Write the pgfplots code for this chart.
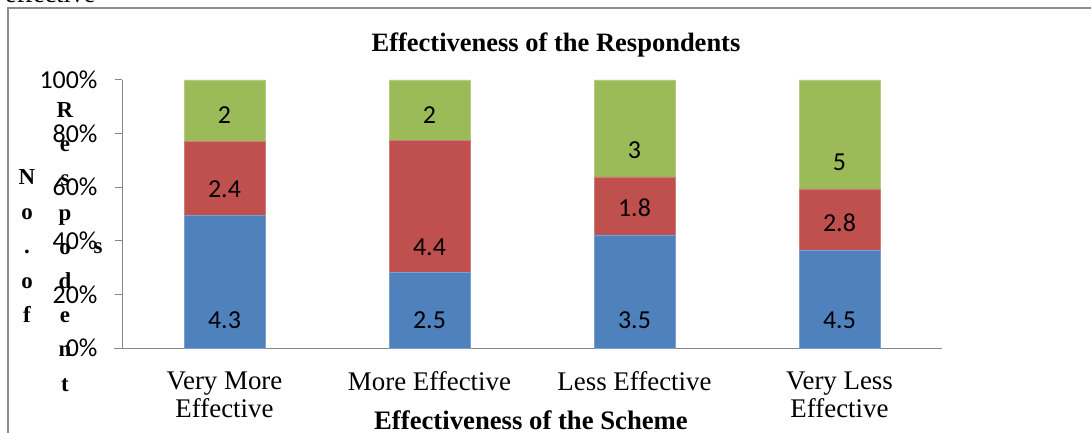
\documentclass[border=0pt]{standalone}
\usepackage{pgfplots}
\pgfplotsset{compat=1.18}
\usepackage{pgfplotstable}
\usepackage{fontspec}
\setmainfont{Liberation Serif}
\newfontfamily\carlito{Carlito}
\definecolor{cblue}{HTML}{4F81BD}
\definecolor{cred}{HTML}{C0504D}
\definecolor{cgreen}{HTML}{9BBB59}
\definecolor{frame}{HTML}{8C8C8C}
\definecolor{axisgray}{HTML}{868686}

\pgfplotstableread{
x a b c la lb lc
0 4.3 2.4 2 10.2 59.3 86.9
1 2.5 4.4 2 10.2 37.7 86.9
2 3.5 1.8 3 10.2 52.2 73.9
3 4.5 2.8 5 10.2 46.6 69.4
}\resp

\begin{document}
\begin{tikzpicture}[x=1bp,y=1bp]
\path[use as bounding box] (0,0) rectangle (1091,432);
% outer frame
\draw[frame, line width=1.3bp] (8,-5) -- (8,424) -- (1100,424);
% cut-off text above the frame
\node[anchor=base west, inner sep=0, font=\fontsize{26}{26}\selectfont] at (5,429) {effective};
\begin{axis}[
  at={(122bp,84bp)}, anchor=south west,
  scale only axis, width=820bp, height=268bp,
  xmin=-0.5, xmax=3.5, ymin=0, ymax=100,
  axis lines*=left,
  axis line style={axisgray, line width=1bp},
  tick align=outside,
  xtick={0,1,2,3},
  xticklabels={{Very More\\Effective},{More Effective},{Less Effective},{Very Less\\Effective}},
  xticklabel style={font=\fontsize{27}{28}\selectfont, align=center, anchor=north, yshift=-13bp},
  x tick style={draw=none},
  minor xtick={-0.5,0.5,1.5,2.5,3.5},
  minor x tick style={axisgray, line width=1bp},
  minor tick length=7bp,
  ytick={0,20,40,60,80,100},
  yticklabels={0\%,20\%,40\%,60\%,80\%,100\%},
  yticklabel style={font=\carlito\fontsize{26}{26}\selectfont, xshift=-14bp},
  y tick style={axisgray, line width=1bp},
  major tick length=7bp,
  clip=false,
]
\addplot[ybar, bar width=0.395, bar shift=0, fill=cgreen, draw=cgreen!75!white, line width=0.6bp]
  table[x=x, y expr=100] {\resp};
\addplot[ybar, bar width=0.395, bar shift=0, fill=cred, draw=cred!75!white, line width=0.6bp]
  table[x=x, y expr={(\thisrow{a}+\thisrow{b})/(\thisrow{a}+\thisrow{b}+\thisrow{c})*100}] {\resp};
\addplot[ybar, bar width=0.395, bar shift=0, fill=cblue, draw=cblue!75!white, line width=0.6bp]
  table[x=x, y expr={\thisrow{a}/(\thisrow{a}+\thisrow{b}+\thisrow{c})*100}] {\resp};
\pgfplotsset{lbl/.style={only marks, mark=none, nodes near coords, point meta=explicit symbolic,
  every node near coord/.style={anchor=center, inner sep=0pt, font=\carlito\fontsize{26}{26}\selectfont, text=black}}}
\addplot[lbl] table[x=x, y=la, meta=a] {\resp};
\addplot[lbl] table[x=x, y=lb, meta=b] {\resp};
\addplot[lbl] table[x=x, y=lc, meta=c] {\resp};
\end{axis}
% bottom axis line stub left of y axis
\draw[axisgray, line width=1bp] (114,84) -- (122,84);
% title and x label
\node[font=\bfseries\fontsize{26.6}{26.6}\selectfont, inner sep=0] at (556,387) {Effectiveness of the Respondents};
\node[font=\bfseries\fontsize{26.8}{26.8}\selectfont, inner sep=0] at (531,12) {Effectiveness of the Scheme};
% stacked y label letters
\foreach \l [count=\i] in {N,o,.,o,f}
  \node[anchor=base, inner sep=0, font=\bfseries\fontsize{23}{23}\selectfont] at (27,{247.5-34.5*(\i-1)}) {\l};
\foreach \l [count=\i] in {R,e,s,p,o,d,e,n,t}
  \node[anchor=base, inner sep=0, font=\bfseries\fontsize{23}{23}\selectfont] at (65,{314.5-34.2*(\i-1)}) {\l};
\node[anchor=base, inner sep=0, font=\bfseries\fontsize{23}{23}\selectfont] at (98,179) {s};
\end{tikzpicture}
\end{document}
